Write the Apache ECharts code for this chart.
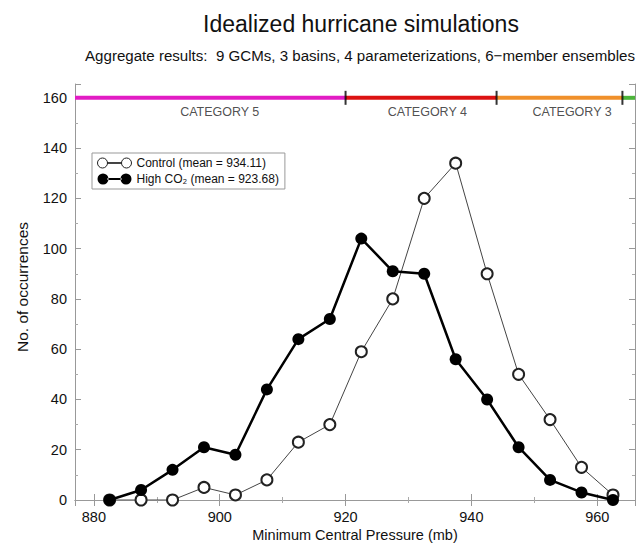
<!DOCTYPE html>
<html>
<head>
<meta charset="utf-8">
<script src="https://cdn.jsdelivr.net/npm/echarts@6/dist/echarts.min.js"></script>
<style>
  html, body { margin: 0; padding: 0; background: #fff; }
  #chart { width: 640px; height: 544px; }
</style>
</head>
<body>
<div id="chart"></div>
<script>
// minimum central pressure bins (mb)
const pressure = [882.5, 887.5, 892.5, 897.5, 902.5, 907.5, 912.5, 917.5, 922.5,
                  927.5, 932.5, 937.5, 942.5, 947.5, 952.5, 957.5, 962.5];
const control = [0, 0, 0, 5, 2, 8, 23, 30, 59, 80, 120, 134, 90, 50, 32, 13, 2];
const highCO2 = [0, 4, 12, 21, 18, 44, 64, 72, 104, 91, 90, 56, 40, 21, 8, 3, 0];

// Saffir-Simpson bands drawn across the top
const catEdges = [877, 920, 944, 964, 966];
const catColors = ['#e21cc4', '#dc1212', '#f0902a', '#4cb43a'];
const catNames = ['CATEGORY 5', 'CATEGORY 4', 'CATEGORY 3'];
const catLabelX = [900, 933, 956];
const catLevel = 160;

const xMin = 877, xMax = 966;
const yMin = 0, yMax = 165.5;

const font = 'Liberation Sans, Arial, sans-serif';

const chart = echarts.init(document.getElementById('chart'), null, { renderer: 'svg' });

const pairs = (ys) => pressure.map((p, i) => [p, ys[i]]);

const bandSeries = catColors.map((c, i) => ({
    type: 'line',
    xAxisIndex: 0, yAxisIndex: 0,
    data: [[catEdges[i], catLevel], [catEdges[i + 1], catLevel]],
    symbol: 'none',
    lineStyle: { color: c, width: 4 },
    silent: true,
    z: 3
}));

const axisCommon = {
    type: 'value',
    axisLine: { lineStyle: { color: '#999', width: 1 } },
    axisTick: { inside: true, length: 6, lineStyle: { color: '#999' } },
    minorTick: { show: true, splitNumber: 2, length: 3, lineStyle: { color: '#aaa' } },
    splitLine: { show: false },
    axisLabel: { color: '#111', fontSize: 14.5, fontFamily: font, showMinLabel: false, showMaxLabel: false }
};

const option = {
    backgroundColor: '#fff',
    animation: false,
    title: [
        {
            text: 'Idealized hurricane simulations',
            left: 356, top: 7, textAlign: 'center',
            textStyle: { fontSize: 23, fontWeight: 'normal', color: '#111', fontFamily: font }
        },
        {
            text: 'Aggregate results:  9 GCMs, 3 basins, 4 parameterizations, 6\u2212member ensembles',
            left: 355, top: 43, textAlign: 'center',
            textStyle: { fontSize: 15.1, fontWeight: 'normal', color: '#111', fontFamily: font }
        }
    ],
    grid: { left: 75, right: 5, top: 84, bottom: 44, outerBoundsMode: 'none', containLabel: false },
    legend: {
        orient: 'vertical',
        left: 92, top: 153,
        padding: [4, 6, 4, 5],
        itemGap: 4,
        itemWidth: 34, itemHeight: 11,
        borderColor: '#999', borderWidth: 1,
        textStyle: { fontSize: 12, color: '#111', fontFamily: font },
        data: [
            {
                name: 'Control (mean = 934.11)',
                icon: 'path://M0,5.5a5,5 0 1,0 10,0a5,5 0 1,0 -10,0Z M10,5.2L24,5.2L24,5.8L10,5.8Z M24,5.5a5,5 0 1,0 10,0a5,5 0 1,0 -10,0Z',
                itemStyle: { color: '#fff', borderColor: '#222', borderWidth: 1 }
            },
            {
                name: 'High CO\u2082 (mean = 923.68)',
                icon: 'path://M0,5.5a5.5,5.5 0 1,0 11,0a5.5,5.5 0 1,0 -11,0Z M10,4.5L24,4.5L24,6.5L10,6.5Z M23,5.5a5.5,5.5 0 1,0 11,0a5.5,5.5 0 1,0 -11,0Z',
                itemStyle: { color: '#000', borderColor: '#000', borderWidth: 0 }
            }
        ]
    },
    xAxis: [
        Object.assign({}, axisCommon, {
            min: xMin, max: xMax, splitNumber: 4,
            name: 'Minimum Central Pressure (mb)',
            nameLocation: 'middle', nameGap: 27, nameMoveOverlap: false,
            nameTextStyle: { fontSize: 14.5, color: '#111', fontFamily: font },
            axisLabel: Object.assign({}, axisCommon.axisLabel, { margin: 9 })
        }),
        Object.assign({}, axisCommon, {
            min: xMin, max: xMax, splitNumber: 4, position: 'top',
            axisLabel: { show: false }
        })
    ],
    yAxis: [
        Object.assign({}, axisCommon, {
            min: yMin, max: yMax, splitNumber: 8,
            name: 'No. of occurrences',
            nameLocation: 'middle', nameGap: 45, nameRotate: 90, nameMoveOverlap: false,
            nameTextStyle: { fontSize: 15.5, color: '#111', fontFamily: font, padding: [0, 0, 0, 10] },
            axisLabel: Object.assign({}, axisCommon.axisLabel, { margin: 8, showMinLabel: true })
        }),
        Object.assign({}, axisCommon, {
            min: yMin, max: yMax, splitNumber: 8, position: 'right',
            axisLabel: { show: false }
        })
    ],
    series: bandSeries.concat([
        {
            type: 'scatter',
            data: catEdges.slice(1, 4).map(x => [x, catLevel]),
            symbol: 'rect', symbolSize: [2, 14],
            itemStyle: { color: '#000' },
            silent: true, z: 4
        },
        {
            type: 'scatter',
            data: catLabelX.map((x, i) => ({ value: [x, catLevel], name: catNames[i] })),
            symbolSize: 0,
            label: {
                show: true, position: 'bottom', distance: 8,
                formatter: p => p.name,
                fontSize: 12.5, color: '#222', fontFamily: font
            },
            silent: true
        },
        {
            name: 'Control (mean = 934.11)',
            type: 'line',
            data: pairs(control),
            symbol: 'emptyCircle', symbolSize: 11,
            itemStyle: { color: '#222', borderWidth: 1 },
            lineStyle: { color: '#444', width: 1 },
            z: 5
        },
        {
            name: 'High CO\u2082 (mean = 923.68)',
            type: 'line',
            data: pairs(highCO2),
            symbol: 'circle', symbolSize: 12,
            itemStyle: { color: '#000' },
            lineStyle: { color: '#000', width: 2.5 },
            z: 6
        }
    ])
};

chart.setOption(option);
</script>
</body>
</html>
